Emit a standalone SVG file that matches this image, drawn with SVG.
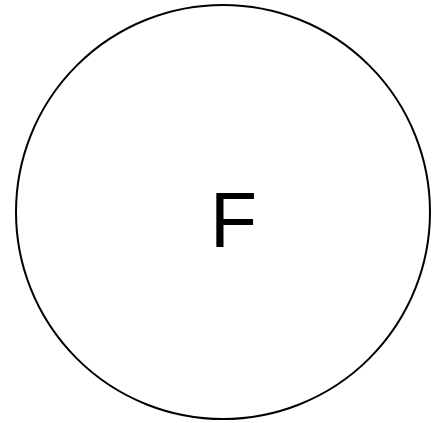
<svg xmlns="http://www.w3.org/2000/svg" width="443" height="423" viewBox="0 0 443 423">
<style>
.node{fill:#ffffff;stroke:#000000;stroke-width:2}
.label{font-family:"Liberation Sans",Arial,sans-serif;font-size:77px;fill:#000000;text-anchor:middle}
</style>
<rect width="443" height="423" fill="#ffffff"/>
<g id="connectors"></g>
<g id="node-F">
<circle class="node" cx="223" cy="212" r="207"/>
<text class="label" x="233.5" y="247">F</text>
</g>
</svg>
